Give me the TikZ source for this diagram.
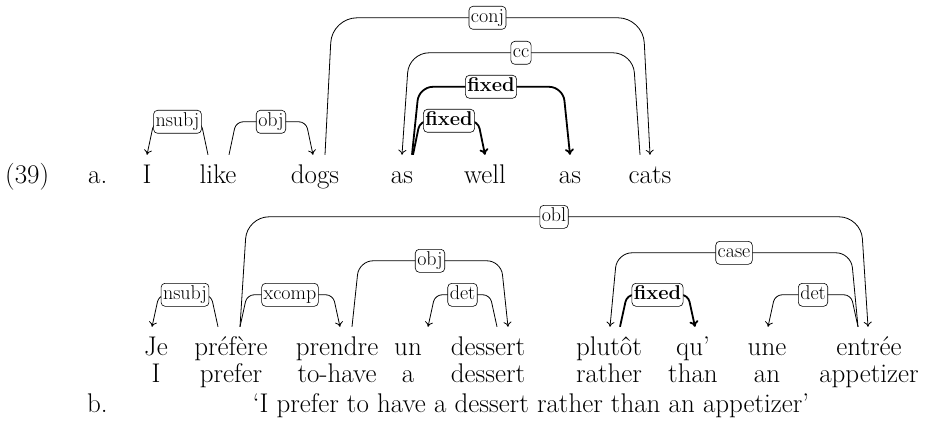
\documentclass[tikz,border=0pt]{standalone}
\usepackage{fontspec}
\usetikzlibrary{calc,arrows.meta}
\begin{document}
\begin{tikzpicture}[x=1pt,y=-1pt,
  word/.style={anchor=base,inner xsep=0pt,inner ysep=0pt,font=\fontsize{27}{31}\selectfont,text height=28pt,text depth=0pt},
  plain/.style={anchor=base,inner sep=0pt,font=\fontsize{27}{31}\selectfont},
  lbl/.style={draw,fill=white,line width=0.6pt,rounded corners=4pt,font=\fontsize{20}{23}\selectfont,
    inner xsep=2pt,inner ysep=0pt,text height=13.5pt,text depth=4.5pt,minimum height=23pt},
  blbl/.style={lbl,font=\fontsize{20}{23}\selectfont\bfseries},
  depe/.style={draw,line width=0.8pt,-{To[length=5pt,width=8pt]}},
  depb/.style={depe,line width=1.8pt,-{To[length=6pt,width=9pt]}}]
\useasboundingbox (0,0) rectangle (926,425);

% example labels
\node[plain,anchor=base west] (ex) at (5,183) {(39)};
\node[plain,anchor=base west] (exa) at (88,183) {a.};
\node[plain,anchor=base west] (exb) at (87,412) {b.};

% row a
\node[word] (a1) at (147,183) {I};
\node[word] (a2) at (218,183) {like};
\node[word] (a3) at (315,183) {dogs};
\node[word] (a4) at (402,183) {as};
\node[word] (a5) at (485,183) {well};
\node[word] (a6) at (570,183) {as};
\node[word] (a7) at (650,183) {cats};

% row b
\node[word] (b1) at (156,355) {Je};
\node[word] (b2) at (231,355) {préfère};
\node[word] (b3) at (337,355) {prendre};
\node[word] (b4) at (408,355) {un};
\node[word] (b5) at (488,355) {dessert};
\node[word] (b6) at (609,355) {plutôt};
\node[word] (b7) at (693,355) {qu’};
\node[word] (b8) at (767,355) {une};
\node[word] (b9) at (869,355) {entrée};

\node[plain] (g1) at (156,382) {I};
\node[plain] (g2) at (231,382) {prefer};
\node[plain] (g3) at (337,382) {to-have};
\node[plain] (g4) at (408,382) {a};
\node[plain] (g5) at (488,382) {dessert};
\node[plain] (g6) at (609,382) {rather};
\node[plain] (g7) at (693,382) {than};
\node[plain] (g8) at (767,382) {an};
\node[plain] (g9) at (869,382) {appetizer};

\node[plain] (tr) at (531,412) {‘I prefer to have a dessert rather than an appetizer’};

% edges row a
\draw[depe,rounded corners=7pt] ($(a2.north)+(-10,0)$) -- ++(-7,-33)
  -- node[lbl] (la1) {nsubj} ($(a1.north)+(7,-33)$) -- (a1.north);
\draw[depe,rounded corners=7pt] ($(a2.north)+(11,0)$) -- ++(7,-33)
  -- node[lbl] (la2) {obj} ($(a3.north)+(-2,0)+(-7,-33)$) -- ($(a3.north)+(-2,0)$);
\draw[depe,rounded corners=25pt] ($(a3.north)+(10,0)$) -- ++(7,-137)
  -- node[lbl] (la3) {conj} ($(a7.north)+(-7,-137)$) -- (a7.north);
\draw[depe,rounded corners=20pt] ($(a7.north)+(-10,0)$) -- ++(-7,-102)
  -- node[lbl] (la4) {cc} ($(a4.north)+(7,-102)$) -- (a4.north);
\draw[depb,rounded corners=14pt] ($(a4.north)+(10,0)$) -- ++(7,-68)
  -- node[blbl] (la5) {fixed} ($(a6.north)+(-7,-68)$) -- (a6.north);
\draw[depb,rounded corners=8pt] ($(a4.north)+(11,0)$) -- ++(7,-34)
  -- node[blbl] (la6) {fixed} ($(a5.north)+(-7,-34)$) -- (a5.north);

% edges row b
\draw[depe,rounded corners=7pt] ($(b2.north)+(-13,0)$) -- ++(-7,-32)
  -- node[lbl] (lb1) {nsubj} ($(b1.north)+(-4,0)+(7,-32)$) -- ($(b1.north)+(-4,0)$);
\draw[depe,rounded corners=7pt] ($(b2.north)+(9,0)$) -- ++(7,-32)
  -- node[lbl] (lb2) {xcomp} ($(b3.north)+(3,0)+(-7,-32)$) -- ($(b3.north)+(3,0)$);
\draw[depe,rounded corners=22pt] ($(b2.north)+(9,0)$) -- ++(7,-110)
  -- node[lbl] (lb3) {obl} ($(b9.north)+(-1,0)+(-7,-110)$) -- ($(b9.north)+(-1,0)$);
\draw[depe,rounded corners=14pt] ($(b3.north)+(15,0)$) -- ++(7,-66)
  -- node[lbl] (lb4) {obj} ($(b5.north)+(20,0)+(-7,-66)$) -- ($(b5.north)+(20,0)$);
\draw[depe,rounded corners=7pt] ($(b5.north)+(9,0)$) -- ++(-7,-32)
  -- node[lbl] (lb5) {det} ($(b4.north)+(20,0)+(7,-32)$) -- ($(b4.north)+(20,0)$);
\draw[depe,rounded corners=15pt] ($(b9.north)+(-11,0)$) -- ++(-7,-74)
  -- node[lbl] (lb6) {case} ($(b6.north)+(1,0)+(7,-74)$) -- ($(b6.north)+(1,0)$);
\draw[depb,rounded corners=7pt] ($(b6.north)+(11,0)$) -- ++(7,-32)
  -- node[blbl] (lb7) {fixed} ($(b7.north)+(2,0)+(-7,-32)$) -- ($(b7.north)+(2,0)$);
\draw[depe,rounded corners=7pt] ($(b9.north)+(-11,0)$) -- ++(-7,-32)
  -- node[lbl] (lb8) {det} ($(b8.north)+(1,0)+(7,-32)$) -- ($(b8.north)+(1,0)$);
\end{tikzpicture}
\end{document}
